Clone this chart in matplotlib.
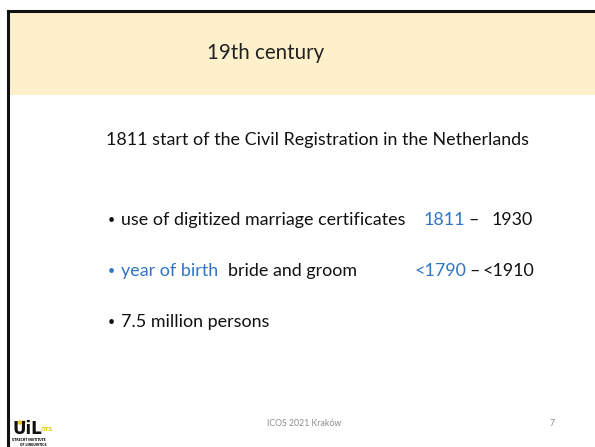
import matplotlib.pyplot as plt
from matplotlib.patches import Rectangle

# slide content
title = '19th century'
intro = '1811 start of the Civil Registration in the Netherlands'
row1 = ['use of digitized marriage certificates', '1811', '–', '1930']
row2 = ['year of birth', 'bride and groom', '<1790', '–', '<1910']
row3 = '7.5 million persons'
footer = 'ICOS 2021 Kraków'
page = '7'

blue = '#2E75C6'
ink = '#111111'
cream = '#FFF0CC'
fnt = 'Lato'

fig = plt.figure(figsize=(5.95, 4.47), dpi=100)
ax = fig.add_axes([0, 0, 1, 1])
ax.set_xlim(0, 595)
ax.set_ylim(447, 0)
ax.axis('off')
rend = fig.canvas.get_renderer()


def size_for(s, width, **kw):
    # font size so that string s is about `width` pixels wide
    t = ax.text(0, 0, s, fontsize=10, family=fnt, **kw)
    w = t.get_window_extent(rend).width
    t.remove()
    return 10 * width / w


# frame + title band
ax.add_patch(Rectangle((9, 12), 590, 83, color=cream, lw=0))
ax.plot([8, 595], [11, 11], color=ink, lw=2.2)
ax.plot([8, 8], [11, 447], color=ink, lw=2.2)

ts = size_for(title, 117)
ax.text(266, 53, title, ha='center', va='center', fontsize=ts, family=fnt, color='#222222')

fs = size_for(intro, 423)
ax.text(106, 140, intro, ha='left', va='center', fontsize=fs, family=fnt, color=ink)

bs = fs * 0.7  # bullets are small in the reference
y1, y2, y3 = 220, 271, 322
ax.text(108, y1, '•', ha='left', va='center', fontsize=bs, family=fnt, color=ink)
ax.text(121, y1, row1[0], ha='left', va='center', fontsize=fs, family=fnt, color=ink)
ax.text(424, y1, row1[1], ha='left', va='center', fontsize=fs, family=fnt, color=blue)
ax.text(468, y1, row1[2], ha='left', va='center', fontsize=fs, family=fnt, color=ink)
ax.text(492, y1, row1[3], ha='left', va='center', fontsize=fs, family=fnt, color=ink)

ax.text(108, y2, '•', ha='left', va='center', fontsize=bs, family=fnt, color=blue)
ax.text(121, y2, row2[0], ha='left', va='center', fontsize=fs, family=fnt, color=blue)
ax.text(357, y2, row2[1], ha='right', va='center', fontsize=fs, family=fnt, color=ink)
ax.text(415, y2, row2[2], ha='left', va='center', fontsize=fs, family=fnt, color=blue)
ax.text(469, y2, row2[3], ha='left', va='center', fontsize=fs, family=fnt, color=ink)
ax.text(483, y2, row2[4], ha='left', va='center', fontsize=fs, family=fnt, color=ink)

ax.text(108, y3, '•', ha='left', va='center', fontsize=bs, family=fnt, color=ink)
ax.text(121, y3, row3, ha='left', va='center', fontsize=fs, family=fnt, color=ink)

ss = size_for(footer, 75)
ax.text(267, 424, footer, ha='left', va='center', fontsize=ss, family=fnt, color='#8c8c8c')
ax.text(552, 424, page, ha='center', va='center', fontsize=ss, family=fnt, color='#8c8c8c')

# logo, roughly
ax.text(12, 434, 'UiL', ha='left', va='baseline', fontsize=12, family='DejaVu Sans', weight='bold', color=ink)
ax.text(41, 431, 'OTS', ha='left', va='baseline', fontsize=4, family='DejaVu Sans', weight='bold', color='#E8C81A')
ax.plot([19, 23], [422, 422], 'o', color='#E8C81A', ms=2.2)
ax.text(12, 441, 'UTRECHT INSTITUTE', ha='left', va='baseline', fontsize=2.2, family='DejaVu Sans', weight='bold')
ax.text(20, 446, 'OF LINGUISTICS', ha='left', va='baseline', fontsize=2.2, family='DejaVu Sans', weight='bold')

fig.savefig('out.png', dpi=100)
